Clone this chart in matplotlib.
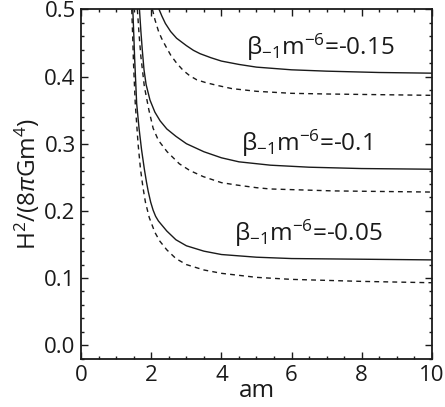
import matplotlib
matplotlib.use("Agg")
import matplotlib.pyplot as plt

plt.rcParams['font.family'] = ['Open Sans', 'DejaVu Sans']
plt.rcParams['mathtext.fontset'] = 'custom'
plt.rcParams['mathtext.rm'] = 'Open Sans'
plt.rcParams['mathtext.it'] = 'Open Sans:italic'
plt.rcParams['mathtext.bf'] = 'Open Sans:bold'

# beta_-1 m^-6 = -0.15
x_a_solid = [2.22, 2.30, 2.40, 2.55, 2.72, 3.00, 3.20, 3.39, 3.70, 4.00, 4.50, 5.00, 5.50, 6.00, 7.00, 8.50, 10.0]
y_a_solid = [0.500, 0.490, 0.479, 0.467, 0.457, 0.446, 0.439, 0.434, 0.428, 0.423, 0.418, 0.414, 0.412, 0.410, 0.408, 0.406, 0.405]
x_a_dash = [2.03, 2.10, 2.20, 2.29, 2.40, 2.55, 2.72, 2.91, 3.10, 3.30, 3.55, 3.86, 4.30, 5.00, 6.00, 7.00, 8.50, 10.0]
y_a_dash = [0.500, 0.485, 0.468, 0.457, 0.446, 0.432, 0.420, 0.409, 0.401, 0.395, 0.391, 0.387, 0.382, 0.378, 0.375, 0.374, 0.373, 0.372]

# beta_-1 m^-6 = -0.1
x_b_solid = [1.66, 1.70, 1.74, 1.79, 1.85, 1.96, 2.10, 2.25, 2.44, 2.70, 3.00, 3.25, 3.50, 4.00, 4.50, 5.40, 6.50, 8.00, 10.0]
y_b_solid = [0.500, 0.468, 0.440, 0.410, 0.388, 0.365, 0.347, 0.334, 0.322, 0.311, 0.300, 0.294, 0.288, 0.279, 0.273, 0.268, 0.265, 0.263, 0.262]
x_b_dash = [1.60, 1.65, 1.70, 1.80, 1.93, 2.05, 2.20, 2.45, 2.80, 3.10, 3.48, 4.00, 4.43, 5.00, 5.39, 7.20, 10.0]
y_b_dash = [0.500, 0.462, 0.430, 0.385, 0.350, 0.323, 0.305, 0.288, 0.270, 0.260, 0.251, 0.242, 0.2385, 0.2345, 0.2326, 0.2297, 0.228]

# beta_-1 m^-6 = -0.05
x_c_solid = [1.47, 1.50, 1.52, 1.55, 1.58, 1.65, 1.72, 1.80, 1.86, 1.91, 1.98, 2.05, 2.12, 2.20, 2.44, 2.70, 3.00, 3.50, 4.00, 5.00, 6.00, 8.00, 10.0]
y_c_solid = [0.500, 0.460, 0.430, 0.395, 0.360, 0.322, 0.291, 0.262, 0.243, 0.229, 0.213, 0.201, 0.192, 0.185, 0.170, 0.157, 0.148, 0.140, 0.135, 0.131, 0.129, 0.128, 0.127]
x_c_dash = [1.44, 1.47, 1.49, 1.54, 1.62, 1.69, 1.76, 1.83, 1.94, 2.10, 2.24, 2.44, 2.70, 3.00, 3.50, 4.00, 5.00, 6.00, 8.00, 10.0]
y_c_dash = [0.500, 0.455, 0.420, 0.360, 0.300, 0.262, 0.235, 0.213, 0.190, 0.168, 0.155, 0.142, 0.129, 0.120, 0.112, 0.107, 0.101, 0.098, 0.095, 0.093]

labels = ['β$_{\\mathregular{-1}}$m$^{\\mathregular{-6}}$=-0.15',
          'β$_{\\mathregular{-1}}$m$^{\\mathregular{-6}}$=-0.1',
          'β$_{\\mathregular{-1}}$m$^{\\mathregular{-6}}$=-0.05']
label_x = [6.82, 6.41, 6.48]
label_y = [0.444, 0.301, 0.167]

fig = plt.figure(figsize=(4.45, 4.07), dpi=100)
ax = fig.add_axes([0.1827, 0.1172, 0.7873, 0.8598])

lw = 1.0
for xs, ys in [(x_a_solid, y_a_solid), (x_b_solid, y_b_solid), (x_c_solid, y_c_solid)]:
    ax.plot(xs, ys, color='#1a1a1a', lw=lw, solid_joinstyle='round')
for xs, ys in [(x_a_dash, y_a_dash), (x_b_dash, y_b_dash), (x_c_dash, y_c_dash)]:
    ax.plot(xs, ys, color='#1a1a1a', lw=lw, dashes=(3.5, 3.0))

for t, tx, ty in zip(labels, label_x, label_y):
    ax.text(tx, ty, t, fontsize=17.5, ha='center', va='center', color='#1a1a1a')

ax.set_xlim(0, 10)
ax.set_ylim(-0.021, 0.5)
ax.set_xticks([0, 2, 4, 6, 8, 10])
ax.set_xticklabels(['0', '2', '4', '6', '8', '10'])
ax.set_yticks([0.0, 0.1, 0.2, 0.3, 0.4, 0.5])
ax.set_yticklabels(['0.0', '0.1', '0.2', '0.3', '0.4', '0.5'])
ax.set_xticks([i * 0.5 for i in range(21)], minor=True)
ax.set_yticks([-0.02 + i * 0.02 for i in range(27)], minor=True)

ax.tick_params(which='both', direction='in', top=True, right=True, color='#1a1a1a', width=1.0)
ax.tick_params(which='major', length=5, labelsize=16, pad=4, labelcolor='#1a1a1a')
ax.tick_params(which='minor', length=2.5)
for s in ax.spines.values():
    s.set_linewidth(1.3)
    s.set_color('#1a1a1a')

ax.set_xlabel('am', fontsize=17.5, labelpad=-5, color='#1a1a1a')
ax.set_ylabel('H$^{\\mathregular{2}}$/(8$\\pi$Gm$^{\\mathregular{4}}$)', fontsize=17.5, labelpad=2, color='#1a1a1a')

fig.savefig('out.png', dpi=100)
